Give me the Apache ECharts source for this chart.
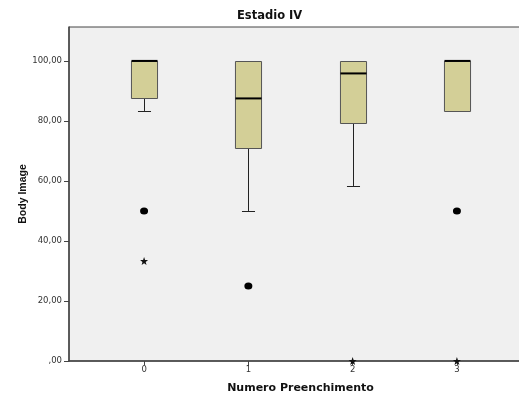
<!DOCTYPE html>
<html><head><meta charset="utf-8">
<script src="https://cdn.jsdelivr.net/npm/echarts@6/dist/echarts.min.js"></script>
<style>html,body{margin:0;padding:0;background:#fff}#c{width:519px;height:394px}</style>
</head><body><div id="c"></div>
<script>
const categories = ['0', '1', '2', '3'];
const whiskerLow = [83.33, 50, 58.33, 83.33];
const q1 = [87.5, 70.83, 79.17, 83.33];
const median = [100, 87.5, 95.83, 100];
const q3 = [100, 100, 100, 100];
const whiskerHigh = [100, 100, 100, 100];
const outlierCat = [0, 1, 3];
const outlierVal = [50, 25, 50];
const extremeCat = [0, 2, 3];
const extremeVal = [33.33, 0, 0];
const yTicks = [0, 20, 40, 60, 80, 100];
const yTickLabels = [',00', '20,00', '40,00', '60,00', '80,00', '100,00'];

const boxData = categories.map((c, i) => [i, whiskerLow[i], q1[i], median[i], q3[i], whiskerHigh[i]]);
const outData = outlierCat.map((c, i) => [c, outlierVal[i]]);
const extData = extremeCat.map((c, i) => [c, extremeVal[i]]);

const chart = echarts.init(document.getElementById('c'));
const WIDE = '"DejaVu Sans", sans-serif';
const ARIAL = '"Liberation Sans", Arial, sans-serif';
chart.setOption({
  animation: false,
  backgroundColor: '#ffffff',
  title: {
    text: 'Estadio IV', left: 232, top: 5,
    textStyle: { fontFamily: WIDE, fontSize: 11.5, fontWeight: 'bold', color: '#111' }
  },
  grid: {
    left: 69, top: 27, width: 463, height: 334,
    outerBoundsMode: 'none', containLabel: false,
    show: true, backgroundColor: '#f0f0f0', borderColor: '#444', borderWidth: 1
  },
  xAxis: {
    type: 'value', min: -0.72, max: 3.72,
    name: 'Numero Preenchimento', nameLocation: 'middle', nameGap: 22,
    nameMoveOverlap: false,
    nameTextStyle: { fontFamily: WIDE, fontSize: 11, fontWeight: 'bold', color: '#111' },
    axisLine: { show: true, onZero: false, lineStyle: { color: '#444', width: 1.5 } },
    axisTick: { show: true, length: 4, inside: false, customValues: [0, 1, 2, 3], lineStyle: { color: '#444' } },
    axisLabel: {
      customValues: [0, 1, 2, 3], margin: 4,
      formatter: v => categories[Math.round(v)],
      fontFamily: WIDE, fontSize: 8.5, color: '#333'
    },
    splitLine: { show: false }
  },
  yAxis: {
    type: 'value', min: 0, max: 111.3,
    name: 'Body Image', nameLocation: 'middle', nameGap: 40, nameRotate: 90,
    nameMoveOverlap: false,
    nameTextStyle: { fontFamily: ARIAL, fontSize: 10.5, fontWeight: 'bold', color: '#111' },
    axisLine: { show: true, onZero: false, lineStyle: { color: '#444', width: 1.5 } },
    axisTick: { show: true, length: 5, customValues: yTicks, lineStyle: { color: '#444' } },
    axisLabel: {
      customValues: yTicks, margin: 7,
      formatter: v => yTickLabels[yTicks.indexOf(v)],
      fontFamily: WIDE, fontSize: 8.5, color: '#333'
    },
    splitLine: { show: false }
  },
  series: [
    {
      type: 'custom',
      data: boxData,
      z: 3,
      renderItem: function (params, api) {
        const x = api.value(0);
        const lo = api.coord([x, api.value(1)]);
        const b1 = api.coord([x, api.value(2)]);
        const md = api.coord([x, api.value(3)]);
        const b3 = api.coord([x, api.value(4)]);
        const hi = api.coord([x, api.value(5)]);
        const bw = api.size([0.25, 0])[0];
        const cw = api.size([0.125, 0])[0];
        const cx = Math.round(b1[0]) + 0.5;
        const children = [];
        const ws = { stroke: '#222', lineWidth: 1 };
        children.push({ type: 'line', shape: { x1: cx, y1: lo[1], x2: cx, y2: b1[1] }, style: ws });
        children.push({ type: 'line', shape: { x1: cx - cw / 2, y1: Math.round(lo[1]) + 0.5, x2: cx + cw / 2, y2: Math.round(lo[1]) + 0.5 }, style: ws });
        children.push({ type: 'line', shape: { x1: cx, y1: hi[1], x2: cx, y2: b3[1] }, style: ws });
        children.push({ type: 'line', shape: { x1: cx - cw / 2, y1: Math.round(hi[1]) + 0.5, x2: cx + cw / 2, y2: Math.round(hi[1]) + 0.5 }, style: ws });
        children.push({
          type: 'rect',
          shape: { x: cx - bw / 2, y: Math.round(b3[1]) + 0.5, width: bw, height: Math.round(b1[1]) - Math.round(b3[1]) },
          style: { fill: '#d3cf97', stroke: '#555', lineWidth: 1 }
        });
        children.push({ type: 'line', shape: { x1: cx - bw / 2, y1: md[1], x2: cx + bw / 2, y2: md[1] }, style: { stroke: '#000', lineWidth: 2 } });
        return { type: 'group', children: children };
      }
    },
    {
      type: 'scatter',
      data: outData,
      symbol: 'circle',
      symbolSize: [8, 7],
      itemStyle: { color: '#000', opacity: 1 },
      z: 4
    },
    {
      type: 'scatter',
      data: extData,
      symbol: 'path://M0,-10 L2.35,-3.24 L9.51,-3.09 L3.8,1.24 L5.88,8.09 L0,4 L-5.88,8.09 L-3.8,1.24 L-9.51,-3.09 L-2.35,-3.24 Z',
      symbolSize: 8,
      itemStyle: { color: '#111', opacity: 1 },
      z: 4
    }
  ]
});
</script></body></html>
